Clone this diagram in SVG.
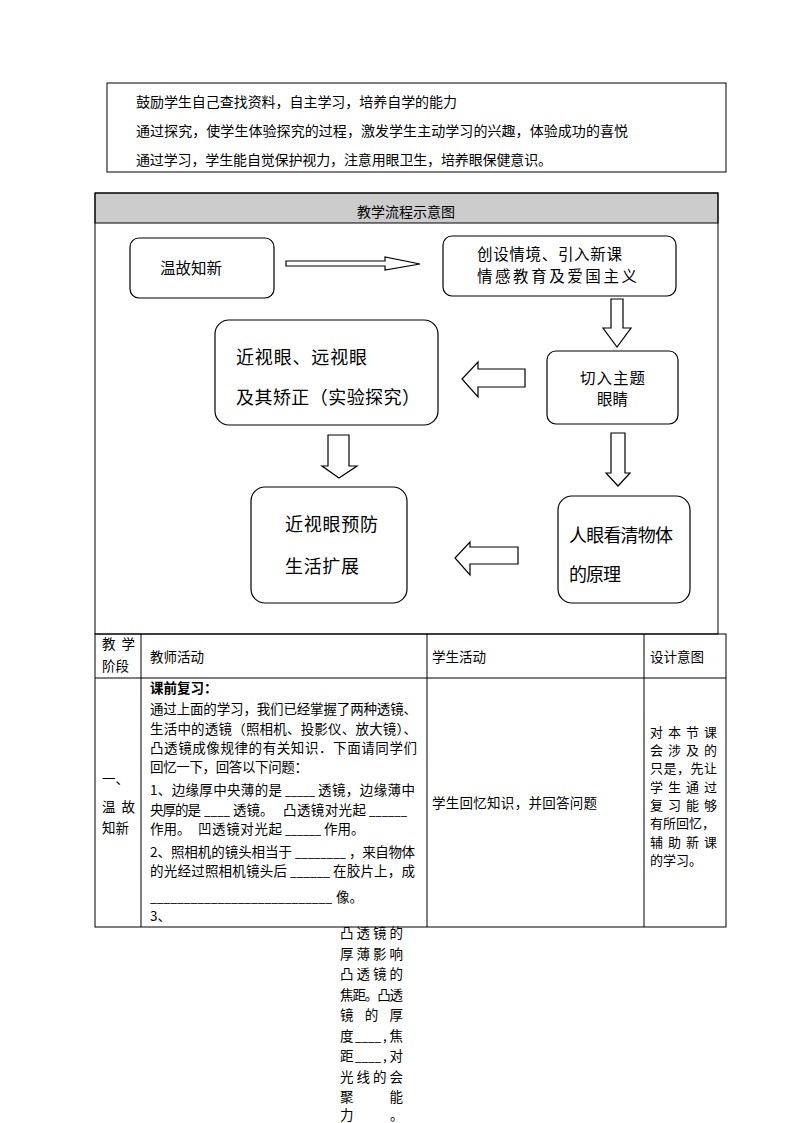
<svg xmlns="http://www.w3.org/2000/svg" width="794" height="1123" viewBox="0 0 794 1123">
<style>
text{font-family:"Noto Sans CJK SC","Liberation Sans",sans-serif;fill:#000}
.t{font-size:14px}
.s{font-size:13.5px}
.c{font-size:13px}
.m{font-size:15.5px}
.l{font-size:18px}
.b{font-weight:bold}
.ln{stroke:#000;stroke-width:1;fill:none}
.box{fill:#fff;stroke:#000;stroke-width:1.2}
.arr{fill:#fff;stroke:#000;stroke-width:1.2;stroke-linejoin:miter}
</style>
<rect width="794" height="1123" fill="#fff"/>

<g id="goals">
<rect x="107" y="83" width="619" height="89" class="ln"/>
<text class="t" x="136" y="107" textLength="321" lengthAdjust="spacing">鼓励学生自己查找资料，自主学习，培养自学的能力</text>
<text class="t" x="136" y="136" textLength="492" lengthAdjust="spacing">通过探究，使学生体验探究的过程，激发学生主动学习的兴趣，体验成功的喜悦</text>
<text class="t" x="136" y="165" textLength="416" lengthAdjust="spacing">通过学习，学生能自觉保护视力，注意用眼卫生，培养眼保健意识。</text>
</g>

<g id="flow-frame">
<rect x="95" y="193" width="623" height="30" fill="#cccccc" stroke="#000" stroke-width="1"/>
<rect x="95" y="193" width="623" height="441" class="ln"/>
<text class="t" x="357" y="217" textLength="98" lengthAdjust="spacing">教学流程示意图</text>
</g>

<g id="connectors">
<polygon class="arr" points="286,261 385,261 385,257 420,264 385,270 385,266 286,266"/>
<polygon class="arr" points="611,299 623,299 623,328 631,328 617,347 603,328 611,328"/>
<polygon class="arr" points="525,369 478,369 478,362 462,379 478,397 478,387 525,387"/>
<polygon class="arr" points="328,435 349,435 349,466 357,466 339,478 322,466 328,466"/>
<polygon class="arr" points="611,433 625,433 625,473 630,473 618,486 606,473 611,473"/>
<polygon class="arr" points="518,547 470,547 470,542 455,558 470,575 470,564 518,564"/>
</g>

<g id="node-review">
<rect class="box" x="130" y="238" width="144" height="60" rx="9"/>
<text class="m" x="160" y="274" textLength="62" lengthAdjust="spacing">温故知新</text>
</g>
<g id="node-intro">
<rect class="box" x="443" y="236" width="233" height="60" rx="9"/>
<text class="m" x="477" y="260" textLength="145" lengthAdjust="spacing">创设情境、引入新课</text>
<text class="m" x="477" y="282" textLength="160" lengthAdjust="spacing">情感教育及爱国主义</text>
</g>
<g id="node-topic">
<rect class="box" x="547" y="351" width="131" height="73" rx="9"/>
<text class="m" x="580" y="384" textLength="65" lengthAdjust="spacing">切入主题</text>
<text class="m" x="597" y="405" textLength="31" lengthAdjust="spacing">眼睛</text>
</g>
<g id="node-myopia">
<rect class="box" x="215" y="320" width="223" height="105" rx="14"/>
<text class="l" x="236" y="364" textLength="131" lengthAdjust="spacing">近视眼、远视眼</text>
<text class="l" x="236" y="404" textLength="184" lengthAdjust="spacing">及其矫正（实验探究）</text>
</g>
<g id="node-prevent">
<rect class="box" x="251" y="487" width="156" height="116" rx="14"/>
<text class="l" x="285" y="531" textLength="93" lengthAdjust="spacing">近视眼预防</text>
<text class="l" x="285" y="573" textLength="74" lengthAdjust="spacing">生活扩展</text>
</g>
<g id="node-eye">
<rect class="box" x="558" y="496" width="132" height="107" rx="14"/>
<text class="l" x="569" y="542" textLength="104" lengthAdjust="spacing">人眼看清物体</text>
<text class="l" x="569" y="581" textLength="52" lengthAdjust="spacing">的原理</text>
</g>

<g id="table">
<rect x="95" y="634" width="631" height="293" class="ln"/>
<line class="ln" x1="95" y1="678" x2="726" y2="678"/>
<line class="ln" x1="141" y1="634" x2="141" y2="927"/>
<line class="ln" x1="427" y1="634" x2="427" y2="927"/>
<line class="ln" x1="644" y1="634" x2="644" y2="927"/>
<text class="s" x="102" y="649" textLength="33" lengthAdjust="spacing">教 学</text>
<text class="s" x="102" y="671">阶段</text>
<text class="s" x="150" y="662">教师活动</text>
<text class="s" x="432" y="662">学生活动</text>
<text class="s" x="650" y="662">设计意图</text>

<text class="s" x="102" y="784">一、</text>
<text class="s" x="102" y="812" textLength="33" lengthAdjust="spacing">温 故</text>
<text class="s" x="102" y="833">知新</text>

<text class="s b" x="150" y="693">课前复习：</text>
<text class="s" x="150" y="714" textLength="267" lengthAdjust="spacing">通过上面的学习，我们已经掌握了两种透镜、</text>
<text class="s" x="150" y="734" textLength="267" lengthAdjust="spacing">生活中的透镜（照相机、投影仪、放大镜）、</text>
<text class="s" x="150" y="753" textLength="267" lengthAdjust="spacing">凸透镜成像规律的有关知识．下面请同学们</text>
<text class="s" x="150" y="772" textLength="158" lengthAdjust="spacing">回忆一下，回答以下问题：</text>
<text class="s" x="150" y="795" textLength="132" lengthAdjust="spacing">1、边缘厚中央薄的是</text>
<text class="s" x="285" y="795" textLength="30" lengthAdjust="spacingAndGlyphs">_____</text>
<text class="s" x="318" y="795" textLength="97" lengthAdjust="spacing">透镜，边缘薄中</text>
<text class="s" x="150" y="815" textLength="51" lengthAdjust="spacing">央厚的是</text>
<text class="s" x="204" y="815" textLength="26" lengthAdjust="spacingAndGlyphs">____</text>
<text class="s" x="233" y="815">透镜。</text>
<text class="s" x="283" y="815" textLength="83" lengthAdjust="spacing">凸透镜对光起</text>
<text class="s" x="369" y="815" textLength="38" lengthAdjust="spacingAndGlyphs">______</text>
<text class="s" x="150" y="834">作用。</text>
<text class="s" x="198" y="834" textLength="84" lengthAdjust="spacing">凹透镜对光起</text>
<text class="s" x="285" y="834" textLength="36" lengthAdjust="spacingAndGlyphs">______</text>
<text class="s" x="324" y="834">作用。</text>
<text class="s" x="150" y="857" textLength="142" lengthAdjust="spacing">2、照相机的镜头相当于</text>
<text class="s" x="295" y="857" textLength="51" lengthAdjust="spacingAndGlyphs">________</text>
<text class="s" x="349" y="857" textLength="66" lengthAdjust="spacing">，来自物体</text>
<text class="s" x="150" y="876" textLength="137" lengthAdjust="spacing">的光经过照相机镜头后</text>
<text class="s" x="290" y="876" textLength="40" lengthAdjust="spacingAndGlyphs">______</text>
<text class="s" x="333" y="876" textLength="82" lengthAdjust="spacing">在胶片上，成</text>
<text class="s" x="150" y="902" textLength="182" lengthAdjust="spacingAndGlyphs">___________________________</text>
<text class="s" x="336" y="902">像。</text>
<text class="s" x="150" y="921">3、</text>

<text class="s" x="432" y="808" textLength="165" lengthAdjust="spacing">学生回忆知识，并回答问题</text>

<text class="c" x="650" y="737" textLength="67" lengthAdjust="spacing">对本节课</text>
<text class="c" x="650" y="755" textLength="67" lengthAdjust="spacing">会涉及的</text>
<text class="c" x="650" y="773" textLength="67" lengthAdjust="spacing">只是，先让</text>
<text class="c" x="650" y="792" textLength="67" lengthAdjust="spacing">学生通过</text>
<text class="c" x="650" y="810" textLength="67" lengthAdjust="spacing">复习能够</text>
<text class="c" x="650" y="828">有所回忆，</text>
<text class="c" x="650" y="847" textLength="67" lengthAdjust="spacing">辅助新课</text>
<text class="c" x="650" y="865">的学习。</text>
</g>

<g id="overflow-text">
<text class="s" x="340" y="938" textLength="63" lengthAdjust="spacing">凸透镜的</text>
<text class="s" x="340" y="958.5" textLength="63" lengthAdjust="spacing">厚薄影响</text>
<text class="s" x="340" y="979" textLength="63" lengthAdjust="spacing">凸透镜的</text>
<text class="s" x="340" y="999.5" textLength="63" lengthAdjust="spacing">焦距。凸透</text>
<text class="s" x="340" y="1020" textLength="63" lengthAdjust="spacing">镜的厚</text>
<text class="s" x="340" y="1040.5">度</text>
<text class="s" x="355" y="1040.5" textLength="26" lengthAdjust="spacingAndGlyphs">____</text>
<text class="s" x="383" y="1040.5" textLength="20" lengthAdjust="spacing">,焦</text>
<text class="s" x="340" y="1061">距</text>
<text class="s" x="355" y="1061" textLength="26" lengthAdjust="spacingAndGlyphs">____</text>
<text class="s" x="383" y="1061" textLength="20" lengthAdjust="spacing">,对</text>
<text class="s" x="340" y="1081.5" textLength="63" lengthAdjust="spacing">光线的会</text>
<text class="s" x="340" y="1101.5" textLength="63" lengthAdjust="spacing">聚能</text>
<text class="s" x="340" y="1120">力</text>
<text class="s" x="390" y="1120">。</text>
</g>
</svg>
